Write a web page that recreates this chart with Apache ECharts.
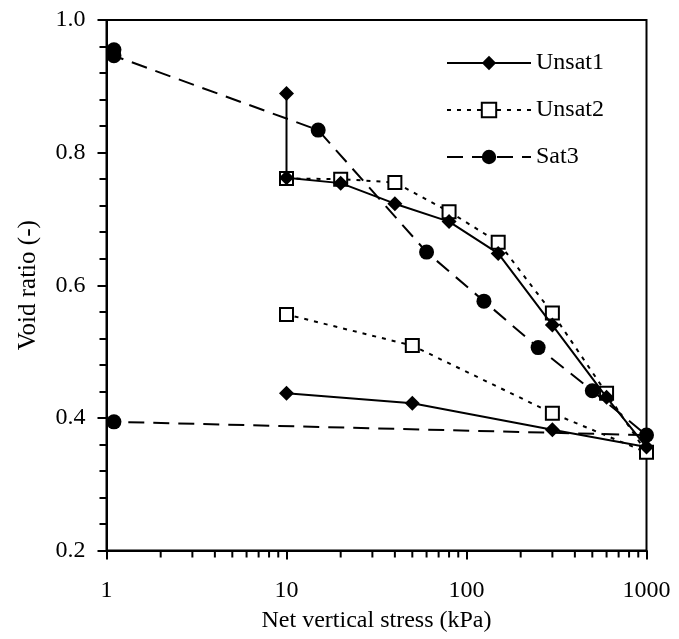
<!DOCTYPE html>
<html>
<head>
<meta charset="utf-8">
<script src="https://cdn.jsdelivr.net/npm/echarts@6/dist/echarts.min.js"></script>
<style>
  html, body { margin: 0; padding: 0; background: #fff; }
  #chart { width: 679px; height: 639px; }
</style>
</head>
<body>
<div id="chart"></div>
<script>
// void ratio vs net vertical stress
const unsat1X = [10, 10, 20, 40, 80, 150, 300, 600, 1000, 300, 50, 10];
const unsat1Y = [0.889, 0.762, 0.754, 0.723, 0.696, 0.648, 0.540, 0.431, 0.356, 0.382, 0.422, 0.437];
const unsat2X = [10, 20, 40, 80, 150, 300, 600, 1000, 300, 50, 10];
const unsat2Y = [0.761, 0.760, 0.755, 0.711, 0.665, 0.558, 0.437, 0.348, 0.407, 0.509, 0.556];
const sat3X = [1.1, 1.1, 15, 60, 125, 250, 500, 1000, 1.1];
const sat3Y = [0.955, 0.946, 0.834, 0.650, 0.576, 0.506, 0.441, 0.374, 0.394];
const seriesNames = ['Unsat1', 'Unsat2', 'Sat3'];
const xMinorTicks = [2, 3, 4, 5, 6, 7, 8, 9, 20, 30, 40, 50, 60, 70, 80, 90, 200, 300, 400, 500, 600, 700, 800, 900];

const font = 'Liberation Serif';
const pairs = (xs, ys) => xs.map((x, i) => [x, ys[i]]);

let myChart = echarts.init(document.getElementById('chart'));
let option = {
  animation: false,
  backgroundColor: '#fff',
  grid: {
    left: 106.5, right: 32.5, top: 20, bottom: 88.5,
    show: true, borderColor: '#000', borderWidth: 2
  },
  legend: {
    data: seriesNames,
    orient: 'vertical',
    left: 441, top: 46,
    itemWidth: 84, itemHeight: 18, itemGap: 23,
    textStyle: { fontFamily: font, fontSize: 24, color: '#000' }
  },
  xAxis: {
    type: 'log', logBase: 10, min: 1, max: 1000,
    name: 'Net vertical stress (kPa)',
    nameLocation: 'middle', nameGap: 58,
    nameTextStyle: { fontFamily: font, fontSize: 24, color: '#000' },
    axisLine: { lineStyle: { color: '#000', width: 2 } },
    axisTick: { length: 9, lineStyle: { color: '#000', width: 2 } },
    axisLabel: { fontFamily: font, fontSize: 24, color: '#000', margin: 28,
      formatter: v => String(Math.round(v)) },
    splitLine: { show: false }
  },
  yAxis: {
    type: 'value', min: 0.2, max: 1.0, interval: 0.2,
    name: 'Void ratio (-)',
    nameLocation: 'middle', nameGap: 66,
    nameTextStyle: { fontFamily: font, fontSize: 25, color: '#000' },
    axisLine: { show: true, lineStyle: { color: '#000', width: 2 } },
    axisTick: { show: true, length: 9, lineStyle: { color: '#000', width: 2 } },
    minorTick: { show: true, splitNumber: 5, length: 7, lineStyle: { color: '#000', width: 2 } },
    axisLabel: { fontFamily: font, fontSize: 24, color: '#000', margin: 21,
      formatter: v => v.toFixed(1) },
    splitLine: { show: false }
  },
  series: [
    {
      name: 'Unsat1', type: 'line', z: 4,
      data: pairs(unsat1X, unsat1Y),
      symbol: 'diamond', symbolSize: 15,
      itemStyle: { color: '#000' },
      lineStyle: { color: '#000', width: 2, type: 'solid' }
    },
    {
      name: 'Unsat2', type: 'line', z: 3,
      data: pairs(unsat2X, unsat2Y),
      symbol: 'rect', symbolSize: 13,
      itemStyle: { color: '#fff', borderColor: '#000', borderWidth: 2 },
      lineStyle: { color: '#000', width: 2, type: [4, 6] }
    },
    {
      name: 'Sat3', type: 'line', z: 2,
      data: pairs(sat3X, sat3Y),
      symbol: 'circle', symbolSize: 15,
      itemStyle: { color: '#000' },
      lineStyle: { color: '#000', width: 2, type: [16, 9] }
    },
    {
      // log-axis minor ticks at 2..9 in each decade
      name: 'minor', type: 'custom', silent: true, z: 1,
      data: xMinorTicks.map(v => [v, 0.2]),
      renderItem: function (params, api) {
        let p = api.coord([api.value(0), api.value(1)]);
        return {
          type: 'line',
          shape: { x1: p[0], y1: p[1], x2: p[0], y2: p[1] + 7 },
          style: { stroke: '#000', lineWidth: 2 }
        };
      }
    }
  ]
};
myChart.setOption(option);
</script>
</body>
</html>
